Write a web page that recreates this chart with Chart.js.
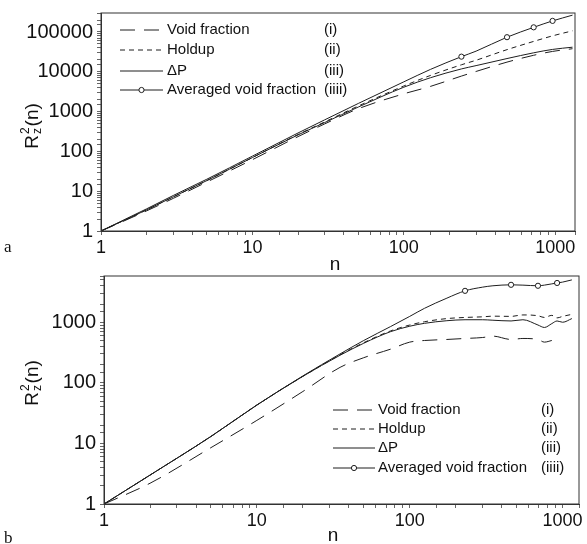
<!DOCTYPE html>
<html>
<head>
<meta charset="utf-8">
<script src="https://cdn.jsdelivr.net/npm/chart.js@4"></script>
<style>
html, body { margin: 0; padding: 0; background: #fff; }
.panel { position: absolute; left: 0; width: 587px; height: 272px; }
</style>
</head>
<body>
<div class="panel" style="top:0"><canvas id="chartA"></canvas></div>
<div class="panel" style="top:272px"><canvas id="chartB"></canvas></div>
<script>
// panel a
var nA = [1, 2, 3, 5, 10, 20, 30, 50, 100, 150, 240, 300, 480, 720, 960, 1300];
var voidA = [1, 3.2, 6.6, 17, 62, 235, 490, 1180, 2800, 4300, 7800, 10200, 17500, 26000, 32500, 38000];
var holdupA = [1, 3.4, 7.2, 18.5, 70, 265, 550, 1380, 4400, 8100, 15000, 19500, 36000, 58000, 80000, 107000];
var dpA = [1, 3.4, 7.2, 18.5, 70, 260, 530, 1300, 4100, 7100, 11800, 14300, 21500, 30000, 36500, 41500];
var avgA = [1, 3.6, 7.8, 20, 76, 290, 620, 1600, 5600, 11500, 24000, 33000, 74000, 131000, 190000, 265000];
var circlesA = [240, 480, 720, 960];

// panel b
var nB = [1, 2, 5, 10, 20, 35, 50, 75, 100, 125, 175, 230, 300, 350, 460, 550, 690, 760, 850, 920, 1000, 1150];
var voidB = [1, 2.2, 8.5, 24, 72, 180, 260, 360, 470, 500, 520, 540, 560, 590, 520, 540, 520, 470, 500, null, null, null];
var holdupB = [1, 3, 13, 43, 128, 290, 460, 720, 900, 1020, 1150, 1200, 1230, 1260, 1250, 1320, 1280, 1200, 1300, 1180, 1250, 1350];
var dpB = [1, 3, 13, 43, 128, 285, 450, 700, 860, 960, 1060, 1100, 1100, 1080, 1050, 1100, 900, 820, 950, 1050, 1000, 1150];
var avgB = [1, 3, 13, 43, 130, 300, 500, 850, 1250, 1700, 2500, 3300, 3800, 4000, 4150, 4100, 4000, 4100, 4300, 4450, 4600, 5000];
var circlesB = [230, 460, 690, 920];

var seriesNames = ['Void fraction', 'Holdup', '\u0394P', 'Averaged void fraction'];
var numerals = ['(i)', '(ii)', '(iii)', '(iiii)'];

var FONT = '"Liberation Sans", Arial, sans-serif';
var INK = '#1e1e1e';

function pts(xs, ys) {
  var out = [];
  for (var i = 0; i < xs.length; i++) out.push({x: xs[i], y: ys[i]});
  return out;
}

function decadeLabel(v) {
  var l = Math.log10(v);
  return Math.abs(l - Math.round(l)) < 1e-6 ? String(Math.round(v)) : '';
}

function makeSets(n, vd, hu, dp, avg, circles) {
  var base = {borderColor: INK, borderWidth: 1, pointRadius: 0, fill: false,
              cubicInterpolationMode: 'monotone', spanGaps: false};
  return [
    Object.assign({}, base, {label: seriesNames[0], numeral: numerals[0], data: pts(n, vd), borderDash: [15, 9]}),
    Object.assign({}, base, {label: seriesNames[1], numeral: numerals[1], data: pts(n, hu), borderDash: [5, 4]}),
    Object.assign({}, base, {label: seriesNames[2], numeral: numerals[2], data: pts(n, dp)}),
    Object.assign({}, base, {label: seriesNames[3], numeral: numerals[3], data: pts(n, avg), circle: true,
      pointBackgroundColor: '#fff', pointBorderColor: INK, pointBorderWidth: 1,
      pointRadius: function (c) { return c.raw && circles.indexOf(c.raw.x) >= 0 ? 2.6 : 0; }})
  ];
}

// box, axis titles, panel letter and legend
var extras = {
  id: 'extras',
  afterDraw: function (chart, args, o) {
    var ctx = chart.ctx, a = chart.chartArea;
    ctx.save();
    ctx.strokeStyle = '#333';
    ctx.lineWidth = 1;
    ctx.strokeRect(a.left, a.top, a.right - a.left, a.bottom - a.top);

    ctx.fillStyle = '#111';
    // y title R_z^2(n)
    ctx.save();
    ctx.translate(o.yTitle[0], o.yTitle[1]);
    ctx.rotate(-Math.PI / 2);
    ctx.textBaseline = 'alphabetic';
    ctx.font = '19px ' + FONT;
    var wR = ctx.measureText('R').width;
    var wP = ctx.measureText('(n)').width;
    ctx.font = '12px ' + FONT;
    var wS = Math.max(ctx.measureText('2').width, ctx.measureText('z').width) + 2;
    var x0 = -(wR + wS + wP) / 2;
    ctx.font = '19px ' + FONT;
    ctx.fillText('R', x0, 7);
    ctx.fillText('(n)', x0 + wR + wS, 7);
    ctx.font = '12px ' + FONT;
    ctx.fillText('2', x0 + wR + 1, -2);
    ctx.fillText('z', x0 + wR + 1, 10);
    ctx.restore();

    // x title
    ctx.font = '19px ' + FONT;
    ctx.textAlign = 'center';
    ctx.textBaseline = 'alphabetic';
    ctx.fillText('n', o.xTitle[0], o.xTitle[1]);

    // panel letter
    ctx.font = '17px "Liberation Serif", "DejaVu Serif", serif';
    ctx.textAlign = 'left';
    ctx.fillText(o.letter, 4, o.letterY);

    // legend
    var L = o.legend;
    ctx.font = '15px ' + FONT;
    ctx.textBaseline = 'middle';
    chart.data.datasets.forEach(function (ds, i) {
      var y = L.rows[i];
      ctx.strokeStyle = INK;
      ctx.lineWidth = 1;
      ctx.setLineDash(ds.borderDash || []);
      ctx.beginPath();
      ctx.moveTo(L.x1, y);
      ctx.lineTo(L.x2, y);
      ctx.stroke();
      ctx.setLineDash([]);
      if (ds.circle) {
        ctx.beginPath();
        ctx.arc((L.x1 + L.x2) / 2, y, 2.6, 0, Math.PI * 2);
        ctx.fillStyle = '#fff';
        ctx.fill();
        ctx.stroke();
      }
      ctx.fillStyle = '#111';
      ctx.fillText(ds.label, L.tx, y);
      ctx.fillText(ds.numeral, L.nx, y);
    });
    ctx.restore();
  }
};

function axisX(max, h) {
  return {
    type: 'logarithmic', min: 1, max: max,
    grid: {drawOnChartArea: false, drawTicks: true, tickLength: 4, color: '#666'},
    border: {display: true, color: '#333'},
    ticks: {autoSkip: false, maxRotation: 0, padding: 2, color: '#111',
            font: {family: FONT, size: 18}, callback: decadeLabel},
    afterFit: function (s) { s.height = h; s.paddingLeft = 0; s.paddingRight = 0; }
  };
}

function axisY(max, w) {
  return {
    type: 'logarithmic', min: 1, max: max,
    grid: {drawOnChartArea: false, drawTicks: true, tickLength: 4, color: '#666'},
    border: {display: true, color: '#333'},
    ticks: {autoSkip: false, padding: 4, color: '#111',
            font: {family: FONT, size: 20}, callback: decadeLabel},
    afterFit: function (s) { s.width = w; s.paddingTop = 0; s.paddingBottom = 0; }
  };
}

function build(id, sets, xmax, ymax, pad, yw, xh, extraOpts) {
  return new Chart(document.getElementById(id), {
    type: 'line',
    data: {datasets: sets},
    options: {
      responsive: true,
      maintainAspectRatio: false,
      animation: false,
      layout: {padding: pad},
      scales: {x: axisX(xmax, xh), y: axisY(ymax, yw)},
      plugins: {legend: {display: false}, tooltip: {enabled: false}, extras: extraOpts}
    },
    plugins: [extras]
  });
}

build('chartA', makeSets(nA, voidA, holdupA, dpA, avgA, circlesA), 1350, 300000,
  {top: 13, right: 12, left: 0, bottom: 0}, 101, 41,
  {yTitle: [31, 126], xTitle: [335, 270], letter: 'a', letterY: 252,
   legend: {x1: 120, x2: 163, tx: 167, nx: 324, rows: [30, 50, 71, 90]}});

build('chartB', makeSets(nB, voidB, holdupB, dpB, avgB, circlesB), 1280, 5800,
  {top: 4, right: 8, left: 0, bottom: 0}, 104, 40,
  {yTitle: [31, 111], xTitle: [333, 269], letter: 'b', letterY: 271,
   legend: {x1: 333, x2: 375, tx: 378, nx: 541, rows: [138, 157, 176, 196]}});
</script>
</body>
</html>
